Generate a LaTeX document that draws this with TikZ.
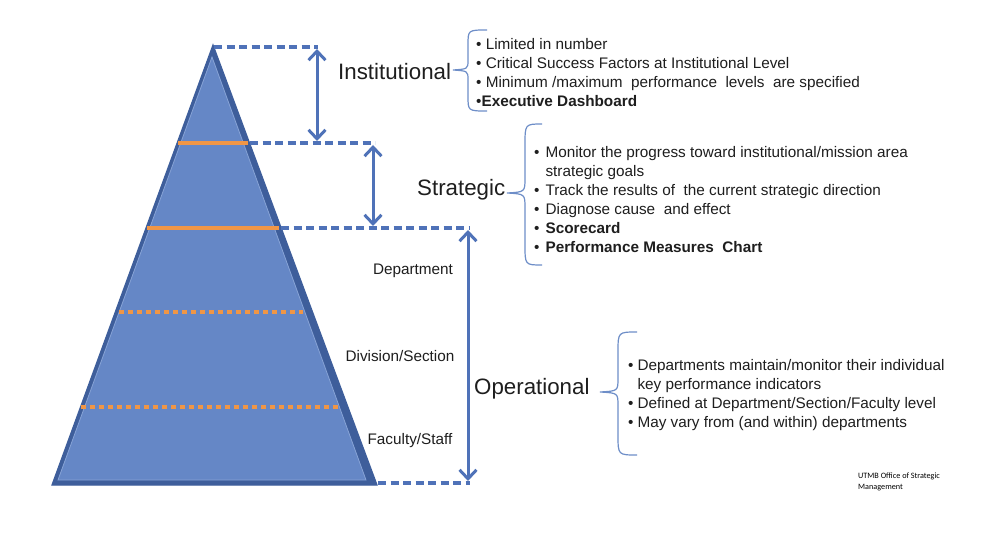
\documentclass[tikz,border=0pt]{standalone}
\usepackage{fontspec}
\setmainfont{Liberation Sans}
\newfontfamily\smallfont{Carlito}
\usetikzlibrary{arrows.meta}
\definecolor{pyrfill}{RGB}{101,135,198}
\definecolor{pyrdark}{RGB}{62,94,155}
\definecolor{pyrlight}{RGB}{135,163,214}
\definecolor{lineblue}{RGB}{79,114,184}
\definecolor{braceblue}{RGB}{110,142,200}
\definecolor{orng}{RGB}{240,150,70}
\definecolor{txt}{RGB}{30,30,30}
\tikzset{
  x=1pt,y=-1pt,
  guide/.style={lineblue,line width=3.4pt,dash pattern=on 8pt off 4.5pt},
  span/.style={lineblue,line width=3pt,{Straight Barb[length=9pt,width=17pt,line width=3pt]}-{Straight Barb[length=9pt,width=17pt,line width=3pt]}},
  solidband/.style={orng,line width=4.5pt},
  dotband/.style={orng,line width=4.5pt,dash pattern=on 4.5pt off 4.5pt},
  bigtitle/.style={font=\fontsize{22.3}{24}\selectfont,text=txt,inner sep=0pt},
  sublabel/.style={font=\fontsize{15.3}{17}\selectfont,text=txt,inner sep=0pt},
  bullets/.style={font=\fontsize{15.3}{19}\selectfont,text=txt,inner sep=0pt,align=left,anchor=north west},
  bracestyle/.style={braceblue,line width=1.2pt},
}
\begin{document}
\begin{tikzpicture}
\useasboundingbox[fill=white] (0,0) rectangle (995,537);
% pyramid
\coordinate (apex) at (213,45);
\coordinate (bl) at (52,485);
\coordinate (br) at (377,485);
\fill[pyrdark] (apex) -- (br) -- (bl) -- cycle;
\fill[pyrfill,draw=pyrlight,line width=0.8pt] (212,57) -- (366,480) -- (58,480) -- cycle;
\draw[pyrdark,line width=1.2pt] (apex) -- (br) -- (bl) -- cycle;
% orange bands
\draw[solidband] (178,143) -- (248,143);
\draw[solidband] (147,228) -- (279,228);
\draw[dotband] (119,312) -- (303,312);
\draw[dotband] (81,407) -- (340,407);
% guide coordinates
\coordinate (g1a) at (214,47);  \coordinate (g1b) at (318,47);
\coordinate (g2a) at (250,143); \coordinate (g2b) at (375,143);
\coordinate (g3a) at (281,228); \coordinate (g3b) at (470,228);
\coordinate (g4a) at (378,483); \coordinate (g4b) at (470,483);
\draw[guide] (g1a) -- (g1b);
\draw[guide] (g2a) -- (g2b);
\draw[guide] (g3a) -- (g3b);
\draw[guide] (g4a) -- (g4b);
\coordinate (a1t) at (317,49);  \coordinate (a1b) at (317,141);
\coordinate (a2t) at (373,145); \coordinate (a2b) at (373,226);
\coordinate (a3t) at (468,230); \coordinate (a3b) at (468,481);
\draw[span] (a1t) -- (a1b);
\draw[span] (a2t) -- (a2b);
\draw[span] (a3t) -- (a3b);
% titles
\node[bigtitle,anchor=west] (inst) at (338,72) {Institutional};
\node[bigtitle,anchor=west] (strat) at (417,190) {Strategic};
\node[bigtitle,anchor=west] (oper) at (474,389) {Operational};
\node[sublabel] (dept) at (413,271) {Department};
\node[sublabel] (div) at (400,356) {Division/Section};
\node[sublabel] (fac) at (410,441) {Faculty/Staff};
% braces
\draw[bracestyle] (487,30) .. controls (468,30) .. (468,45) -- (468,60) .. controls (468,69) .. (453,70) .. controls (468,71) .. (468,80) -- (468,96) .. controls (468,111) .. (487,111);
\draw[bracestyle] (542,124) .. controls (525,124) .. (525,145) -- (525,178) .. controls (525,192) .. (507,193) .. controls (525,194) .. (525,208) -- (525,245) .. controls (525,265) .. (542,265);
\draw[bracestyle] (637,332) .. controls (618,332) .. (618,352) -- (618,378) .. controls (618,391) .. (600,392) .. controls (618,393) .. (618,406) -- (618,435) .. controls (618,455) .. (637,455);
% bullet texts
\node[bullets] (instlist) at (476,38) {%
\textbullet\ Limited in number\\
\textbullet\ Critical Success Factors at Institutional Level\\
\textbullet\ Minimum /maximum\ \ performance\ \ levels\ \ are specified\\
\textbullet\textbf{Executive Dashboard}};
\node[bullets] (stratlist) at (534,144) {%
\begin{tabular}{@{}l@{\hspace{6pt}}l@{}}
\textbullet & Monitor the progress toward institutional/mission area\\
 & strategic goals\\
\textbullet & Track the results of\ \ the current strategic direction\\
\textbullet & Diagnose cause\ \ and effect\\
\textbullet & \textbf{Scorecard}\\
\textbullet & \textbf{Performance Measures\ \ Chart}
\end{tabular}};
\node[bullets] (operlist) at (628,357) {%
\begin{tabular}{@{}l@{\hspace{4pt}}l@{}}
\textbullet & Departments maintain/monitor their individual\\
 & key performance indicators\\
\textbullet & Defined at Department/Section/Faculty level\\
\textbullet & May vary from (and within) departments
\end{tabular}};
\node[font=\smallfont\fontsize{8.2}{10.5}\selectfont,align=left,anchor=north west,inner sep=0pt,text=black] (credit) at (858,473) {UTMB Office of Strategic\\Management};
\end{tikzpicture}
\end{document}
